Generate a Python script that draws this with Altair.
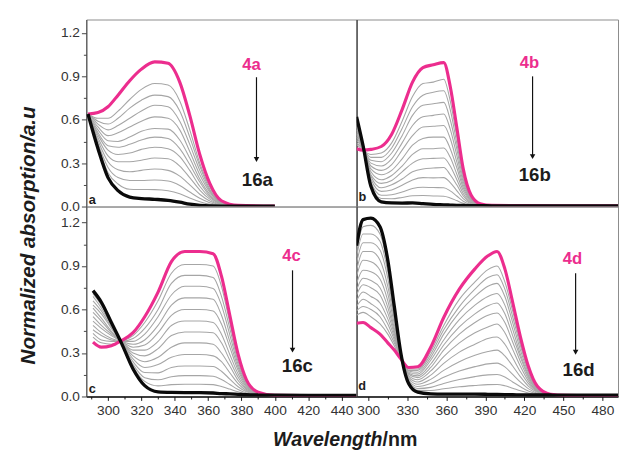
import altair as alt
import pandas as pd

FONT = "Liberation Sans"
PINK = "#ec2d8e"
GRAY = "#a6a6a6"
INK = "#1c1c1c"

# ---------------- panel a ----------------
WL_A = [288, 294, 300, 306, 313, 320, 328, 336, 343, 349, 355, 361, 368, 378, 400]
PINK_A = [0.64, 0.65, 0.69, 0.77, 0.87, 0.95, 1.00, 0.99, 0.86, 0.63, 0.36, 0.16, 0.04, 0.008, 0.004]
BLACK_A = [0.64, 0.40, 0.20, 0.11, 0.065, 0.055, 0.05, 0.043, 0.03, 0.016, 0.008, 0.004, 0.003, 0.003, 0.003]
GRAYS_A = [
    [0.64, 0.61, 0.61, 0.66, 0.74, 0.81, 0.85, 0.84, 0.73, 0.53, 0.30, 0.135, 0.034, 0.007, 0.004],
    [0.64, 0.59, 0.57, 0.61, 0.68, 0.735, 0.77, 0.76, 0.66, 0.48, 0.28, 0.12, 0.031, 0.007, 0.004],
    [0.64, 0.57, 0.53, 0.56, 0.61, 0.66, 0.70, 0.69, 0.59, 0.43, 0.25, 0.11, 0.028, 0.006, 0.004],
    [0.64, 0.55, 0.49, 0.51, 0.55, 0.59, 0.62, 0.61, 0.53, 0.38, 0.22, 0.10, 0.025, 0.006, 0.004],
    [0.64, 0.53, 0.455, 0.45, 0.48, 0.52, 0.54, 0.535, 0.46, 0.335, 0.19, 0.085, 0.022, 0.005, 0.004],
    [0.64, 0.51, 0.42, 0.41, 0.43, 0.46, 0.48, 0.47, 0.40, 0.29, 0.17, 0.074, 0.02, 0.005, 0.004],
    [0.64, 0.495, 0.39, 0.36, 0.37, 0.395, 0.41, 0.40, 0.345, 0.25, 0.14, 0.063, 0.017, 0.005, 0.004],
    [0.64, 0.475, 0.35, 0.31, 0.31, 0.32, 0.335, 0.33, 0.28, 0.20, 0.114, 0.051, 0.014, 0.004, 0.003],
    [0.64, 0.455, 0.31, 0.255, 0.24, 0.25, 0.26, 0.25, 0.21, 0.15, 0.085, 0.038, 0.011, 0.004, 0.003],
    [0.64, 0.435, 0.27, 0.20, 0.18, 0.18, 0.183, 0.176, 0.146, 0.10, 0.057, 0.026, 0.008, 0.004, 0.003],
    [0.64, 0.42, 0.234, 0.156, 0.12, 0.118, 0.117, 0.109, 0.088, 0.059, 0.033, 0.015, 0.006, 0.003, 0.003],
]

# ---------------- panel b ----------------
WL_B = [291, 296, 302, 310, 318, 326, 334, 342, 350, 358, 363, 368, 373, 379, 386, 395]
TAIL_B = [420, 460, 492]
PINK_B = [0.40, 0.39, 0.395, 0.415, 0.50, 0.67, 0.86, 0.96, 0.98, 0.995, 0.83, 0.55, 0.26, 0.08, 0.02, 0.008,
          0.006, 0.005, 0.005]
BLACK_B = [0.62, 0.42, 0.14, 0.032, 0.025, 0.024, 0.025, 0.02, 0.015, 0.012, 0.01, 0.008, 0.007, 0.006, 0.006, 0.005,
           0.005, 0.005, 0.004]
GRAYS_B = [
    [0.43, 0.39, 0.36, 0.37, 0.44, 0.59, 0.76, 0.85, 0.86, 0.88, 0.73, 0.485, 0.23, 0.071, 0.018, 0.008],
    [0.44, 0.40, 0.34, 0.34, 0.405, 0.54, 0.69, 0.77, 0.79, 0.80, 0.67, 0.44, 0.21, 0.065, 0.017, 0.007],
    [0.46, 0.40, 0.32, 0.31, 0.37, 0.49, 0.63, 0.70, 0.71, 0.72, 0.60, 0.40, 0.19, 0.059, 0.016, 0.007],
    [0.48, 0.40, 0.30, 0.28, 0.33, 0.44, 0.56, 0.62, 0.63, 0.64, 0.535, 0.355, 0.17, 0.053, 0.015, 0.007],
    [0.50, 0.40, 0.28, 0.25, 0.29, 0.39, 0.49, 0.55, 0.555, 0.56, 0.47, 0.31, 0.15, 0.047, 0.014, 0.006],
    [0.51, 0.41, 0.26, 0.22, 0.25, 0.33, 0.425, 0.47, 0.48, 0.48, 0.40, 0.27, 0.13, 0.042, 0.013, 0.006],
    [0.53, 0.41, 0.24, 0.185, 0.215, 0.28, 0.36, 0.40, 0.40, 0.405, 0.34, 0.225, 0.11, 0.036, 0.012, 0.006],
    [0.55, 0.41, 0.22, 0.16, 0.18, 0.24, 0.30, 0.33, 0.333, 0.336, 0.28, 0.187, 0.09, 0.03, 0.011, 0.006],
    [0.56, 0.41, 0.21, 0.13, 0.15, 0.19, 0.24, 0.26, 0.266, 0.27, 0.22, 0.15, 0.073, 0.025, 0.01, 0.005],
    [0.58, 0.41, 0.19, 0.105, 0.115, 0.147, 0.184, 0.20, 0.198, 0.20, 0.166, 0.11, 0.055, 0.02, 0.009, 0.005],
    [0.59, 0.42, 0.17, 0.078, 0.082, 0.10, 0.125, 0.133, 0.131, 0.13, 0.108, 0.073, 0.037, 0.015, 0.008, 0.005],
    [0.61, 0.42, 0.155, 0.055, 0.054, 0.063, 0.075, 0.076, 0.073, 0.071, 0.059, 0.041, 0.022, 0.01, 0.007, 0.005],
]

# ---------------- panel c ----------------
WL_C = [291, 296, 302, 308, 315, 322, 330, 338, 346, 355, 363, 368, 373, 378, 383, 390, 400]
TAIL_C = [420, 449]
PINK_C = [0.375, 0.34, 0.35, 0.385, 0.44, 0.55, 0.72, 0.93, 1.0, 1.0, 0.985, 0.83, 0.56, 0.29, 0.115, 0.03, 0.008,
          0.006, 0.005]
BLACK_C = [0.73, 0.65, 0.51, 0.37, 0.19, 0.075, 0.032, 0.028, 0.027, 0.027, 0.024, 0.02, 0.018, 0.015, 0.012, 0.01,
           0.009, 0.008, 0.008]
GRAYS_C = [
    [0.41, 0.37, 0.36, 0.38, 0.42, 0.51, 0.66, 0.85, 0.91, 0.91, 0.90, 0.76, 0.51, 0.265, 0.106, 0.028, 0.009],
    [0.435, 0.39, 0.38, 0.38, 0.40, 0.47, 0.60, 0.78, 0.835, 0.835, 0.82, 0.69, 0.47, 0.24, 0.097, 0.027, 0.009],
    [0.46, 0.42, 0.39, 0.38, 0.38, 0.43, 0.55, 0.70, 0.76, 0.76, 0.745, 0.63, 0.425, 0.22, 0.089, 0.025, 0.009],
    [0.49, 0.44, 0.40, 0.38, 0.36, 0.39, 0.49, 0.63, 0.68, 0.68, 0.67, 0.56, 0.38, 0.20, 0.081, 0.023, 0.009],
    [0.52, 0.47, 0.42, 0.38, 0.34, 0.355, 0.44, 0.56, 0.60, 0.60, 0.59, 0.50, 0.34, 0.18, 0.073, 0.022, 0.009],
    [0.55, 0.49, 0.43, 0.38, 0.32, 0.32, 0.38, 0.49, 0.52, 0.52, 0.51, 0.43, 0.29, 0.155, 0.065, 0.02, 0.009],
    [0.58, 0.52, 0.44, 0.38, 0.30, 0.28, 0.33, 0.42, 0.445, 0.445, 0.44, 0.37, 0.25, 0.133, 0.056, 0.019, 0.009],
    [0.61, 0.54, 0.45, 0.375, 0.28, 0.24, 0.27, 0.34, 0.37, 0.37, 0.36, 0.30, 0.21, 0.11, 0.048, 0.017, 0.009],
    [0.63, 0.57, 0.47, 0.374, 0.26, 0.20, 0.22, 0.27, 0.29, 0.29, 0.28, 0.24, 0.164, 0.089, 0.04, 0.015, 0.009],
    [0.66, 0.59, 0.48, 0.373, 0.24, 0.165, 0.163, 0.20, 0.21, 0.21, 0.207, 0.174, 0.12, 0.067, 0.032, 0.014, 0.009],
    [0.69, 0.61, 0.49, 0.372, 0.22, 0.13, 0.115, 0.136, 0.144, 0.144, 0.139, 0.117, 0.083, 0.048, 0.024, 0.012, 0.009],
    [0.71, 0.63, 0.50, 0.371, 0.205, 0.104, 0.073, 0.082, 0.085, 0.085, 0.082, 0.069, 0.051, 0.032, 0.018, 0.011, 0.009],
]

# ---------------- panel d ----------------
WL_D = [291, 296, 302, 309, 315, 320, 325, 331, 338, 348, 358, 370, 382, 392, 399, 405, 411, 417, 423, 430, 440, 452]
TAIL_D = [470, 492]
PINK_D = [0.505, 0.51, 0.475, 0.43, 0.37, 0.32, 0.26, 0.20, 0.205, 0.34, 0.545, 0.74, 0.88, 0.97, 1.0, 0.88, 0.65,
          0.41, 0.21, 0.07, 0.015, 0.008, 0.006, 0.006]
BLACK_D = [1.04, 1.22, 1.23, 1.17, 0.94, 0.62, 0.30, 0.09, 0.03, 0.018, 0.016, 0.016, 0.016, 0.015, 0.014, 0.013,
           0.012, 0.011, 0.01, 0.01, 0.01, 0.009, 0.009, 0.009]
GRAYS_D = [
    [0.56, 0.58, 0.55, 0.50, 0.43, 0.35, 0.26, 0.19, 0.19, 0.31, 0.49, 0.67, 0.79, 0.875, 0.90, 0.79, 0.59, 0.37, 0.19, 0.064, 0.0145, 0.009],
    [0.59, 0.62, 0.60, 0.55, 0.46, 0.37, 0.27, 0.18, 0.18, 0.29, 0.46, 0.62, 0.74, 0.82, 0.84, 0.74, 0.55, 0.35, 0.18, 0.06, 0.014, 0.009],
    [0.62, 0.67, 0.64, 0.59, 0.50, 0.39, 0.27, 0.176, 0.167, 0.27, 0.43, 0.58, 0.69, 0.76, 0.78, 0.69, 0.51, 0.32, 0.166, 0.057, 0.014, 0.009],
    [0.66, 0.72, 0.69, 0.645, 0.535, 0.41, 0.27, 0.168, 0.154, 0.25, 0.39, 0.53, 0.63, 0.69, 0.71, 0.63, 0.465, 0.29, 0.15, 0.053, 0.013, 0.009],
    [0.70, 0.77, 0.75, 0.70, 0.575, 0.43, 0.27, 0.16, 0.142, 0.224, 0.355, 0.48, 0.57, 0.626, 0.645, 0.57, 0.42, 0.27, 0.138, 0.048, 0.013, 0.009],
    [0.735, 0.815, 0.80, 0.75, 0.615, 0.45, 0.28, 0.153, 0.13, 0.20, 0.32, 0.43, 0.51, 0.56, 0.576, 0.51, 0.376, 0.24, 0.124, 0.044, 0.012, 0.009],
    [0.78, 0.87, 0.86, 0.81, 0.66, 0.47, 0.28, 0.144, 0.116, 0.176, 0.275, 0.37, 0.44, 0.48, 0.50, 0.44, 0.325, 0.207, 0.108, 0.039, 0.012, 0.009],
    [0.83, 0.94, 0.93, 0.87, 0.71, 0.50, 0.284, 0.134, 0.10, 0.147, 0.228, 0.306, 0.36, 0.40, 0.41, 0.36, 0.267, 0.17, 0.09, 0.034, 0.012, 0.009],
    [0.87, 1.00, 1.00, 0.94, 0.76, 0.53, 0.29, 0.124, 0.084, 0.118, 0.18, 0.24, 0.284, 0.31, 0.32, 0.28, 0.21, 0.135, 0.072, 0.029, 0.011, 0.009],
    [0.92, 1.06, 1.06, 1.01, 0.815, 0.55, 0.29, 0.114, 0.069, 0.089, 0.132, 0.175, 0.206, 0.225, 0.23, 0.204, 0.152, 0.099, 0.054, 0.023, 0.011, 0.009],
    [0.965, 1.12, 1.12, 1.07, 0.86, 0.58, 0.294, 0.105, 0.055, 0.063, 0.09, 0.117, 0.137, 0.149, 0.152, 0.134, 0.10, 0.067, 0.038, 0.018, 0.01, 0.009],
    [1.00, 1.17, 1.18, 1.12, 0.90, 0.60, 0.297, 0.098, 0.042, 0.041, 0.053, 0.067, 0.076, 0.082, 0.083, 0.074, 0.057, 0.039, 0.024, 0.014, 0.01, 0.009],
]

# annotations (label text, and where they sit in data units)
START_LABELS = ["4a", "4b", "4c", "4d"]
END_LABELS = ["16a", "16b", "16c", "16d"]
PANEL_LETTERS = ["a", "b", "c", "d"]
START_POS = [(386, 0.975), (424, 0.99), (410, 0.966), (457, 0.95)]
END_POS = [(389.5, 0.186), (428, 0.217), (413.5, 0.21), (461.7, 0.18)]
ARROW_X = [389, 426.3, 410.6, 459.4]
ARROW_TOP = [0.894, 0.90, 0.87, 0.85]
ARROW_BOTTOM = [0.325, 0.345, 0.32, 0.305]
LETTER_POS = [(288.5, 0.045), (292.5, 0.068), (288.5, 0.054), (292.3, 0.074)]

Y_MAJOR = [0.0, 0.3, 0.6, 0.9, 1.2]
Y_MINOR = [0.15, 0.45, 0.75, 1.05]
X_MAJOR_L = [300, 320, 340, 360, 380, 400, 420, 440]
X_MINOR_L = [290, 310, 330, 350, 370, 390, 410, 430]
X_MAJOR_R = [300, 330, 360, 390, 420, 450, 480]
X_MINOR_R = [315, 345, 375, 405, 435, 465]


def curves_frame(wl, curves):
    rows = []
    for i, c in enumerate(curves):
        for x, y in zip(wl, c):
            rows.append({"wl": x, "v": y, "s": i})
    return pd.DataFrame(rows)


def panel(i, wl, tail, pink, black, grays, xdom, ydom, w, h, side, bottom):
    xs = alt.Scale(domain=xdom, nice=False, zero=False)
    ys = alt.Scale(domain=ydom, nice=False, zero=False)

    if bottom:
        xmaj_vals, xmin_vals = (X_MAJOR_L, X_MINOR_L) if side == "L" else (X_MAJOR_R, X_MINOR_R)
        if side == "L":
            tkw = dict(title="Wavelength", titleX=302, titleAlign="right", titleFontStyle="italic")
        else:
            tkw = dict(title="/nm", titleX=26, titleAlign="left")
        x_major = alt.Axis(orient="bottom", values=xmaj_vals, tickSize=4, labelPadding=3, labelFontSize=14,
                           labelColor="#333", tickColor="#111", domainColor="#111", domainWidth=1.6, grid=False,
                           titleY=50, titleBaseline="alphabetic", titleFontSize=20, titleFontWeight="bold",
                           titleColor=INK, labelFlush=False, labelOverlap=False, **tkw)
        x_minor = alt.Axis(orient="bottom", values=xmin_vals, tickSize=2.5, labels=False, domain=False,
                           tickColor="#111", grid=False, title=None)
    else:
        x_major = None
        x_minor = None

    if side == "L":
        ykw = dict(title=None)
        if bottom:
            ykw = dict(title="Normalized absorption/a.u", titleX=-59, titleY=29, titleAngle=270,
                       titleAlign="center", titleBaseline="middle", titleFontSize=21, titleFontWeight="bold",
                       titleFontStyle="italic", titleColor=INK)
        y_major = alt.Axis(orient="left", values=Y_MAJOR, format=".1f", tickSize=5, labelPadding=2,
                           labelFontSize=14, labelColor="#333", tickColor="#444", domainColor="#444",
                           grid=False, labelFlush=False, labelOverlap=False, **ykw)
        y_minor = alt.Axis(orient="left", values=Y_MINOR, tickSize=3, labels=False, domain=False,
                           tickColor="#444", grid=False, title=None)
    else:
        y_major = alt.Axis(orient="left", values=[], ticks=False, labels=False, domainColor="#333",
                           grid=False, title=None)
        y_minor = None

    gdf = curves_frame(wl, grays)
    pdf = pd.DataFrame({"wl": wl + tail, "v": pink})
    bdf = pd.DataFrame({"wl": wl + tail, "v": black})

    gray_layer = alt.Chart(gdf).mark_line(interpolate="monotone", clip=True, strokeWidth=1.1, color=GRAY).encode(
        x=alt.X("wl:Q", scale=xs, axis=x_major),
        y=alt.Y("v:Q", scale=ys, axis=y_major),
        detail="s:N",
    )
    pink_layer = alt.Chart(pdf).mark_line(interpolate="monotone", clip=True, strokeWidth=3.2, color=PINK).encode(
        x=alt.X("wl:Q", scale=xs, axis=None),
        y=alt.Y("v:Q", scale=ys, axis=None),
    )
    black_layer = alt.Chart(bdf).mark_line(interpolate="monotone", clip=True, strokeWidth=3.4, color="#0a0a0a").encode(
        x=alt.X("wl:Q", scale=xs, axis=x_minor),
        y=alt.Y("v:Q", scale=ys, axis=y_minor),
    )

    adf = pd.DataFrame({"x": [ARROW_X[i]], "top": [ARROW_TOP[i]], "bot": [ARROW_BOTTOM[i]]})
    arrow = alt.Chart(adf).mark_rule(color="#111", strokeWidth=1.2).encode(
        x=alt.X("x:Q", scale=xs, axis=None),
        y=alt.Y("top:Q", scale=ys, axis=None),
        y2="bot:Q",
    )
    head = alt.Chart(adf).mark_point(shape="triangle-down", filled=True, size=32, color="#111", opacity=1).encode(
        x=alt.X("x:Q", scale=xs, axis=None),
        y=alt.Y("bot:Q", scale=ys, axis=None),
    )

    sdf = pd.DataFrame({"x": [START_POS[i][0]], "y": [START_POS[i][1]], "t": [START_LABELS[i]]})
    edf = pd.DataFrame({"x": [END_POS[i][0]], "y": [END_POS[i][1]], "t": [END_LABELS[i]]})
    ldf = pd.DataFrame({"x": [LETTER_POS[i][0]], "y": [LETTER_POS[i][1]], "t": [PANEL_LETTERS[i]]})

    start_txt = alt.Chart(sdf).mark_text(font=FONT, fontWeight="bold", fontSize=17, color=PINK,
                                         baseline="middle", align="center").encode(
        x=alt.X("x:Q", scale=xs, axis=None), y=alt.Y("y:Q", scale=ys, axis=None), text="t:N")
    end_txt = alt.Chart(edf).mark_text(font=FONT, fontWeight="bold", fontSize=19, color=INK,
                                       baseline="middle", align="center").encode(
        x=alt.X("x:Q", scale=xs, axis=None), y=alt.Y("y:Q", scale=ys, axis=None), text="t:N")
    letter_txt = alt.Chart(ldf).mark_text(font=FONT, fontWeight="bold", fontSize=13, color=INK,
                                          baseline="middle", align="left").encode(
        x=alt.X("x:Q", scale=xs, axis=None), y=alt.Y("y:Q", scale=ys, axis=None), text="t:N")

    return alt.layer(gray_layer, pink_layer, black_layer, arrow, head, start_txt, end_txt, letter_txt).resolve_axis(
        x="independent", y="independent").properties(width=w, height=h)


XD_L = [287, 449]
XD_R = [291, 492]
pa = panel(0, WL_A, [], PINK_A, BLACK_A, GRAYS_A, XD_L, [0, 1.293], 276, 191, "L", False)
pb = panel(1, WL_B, TAIL_B, PINK_B, BLACK_B, GRAYS_B, XD_R, [0, 1.293], 267, 191, "R", False)
pc = panel(2, WL_C, TAIL_C, PINK_C, BLACK_C, GRAYS_C, XD_L, [0, 1.31], 276, 194, "L", True)
pd_ = panel(3, WL_D, TAIL_D, PINK_D, BLACK_D, GRAYS_D, XD_R, [0, 1.31], 267, 194, "R", True)

chart = alt.concat(pa, pb, pc, pd_, columns=2, spacing=0, bounds="flush").resolve_scale(
    x="independent", y="independent"
).properties(
    padding={"left": 9, "top": 6, "right": 0, "bottom": 0},
    background="white",
).configure_view(
    stroke="#8a8a8a", strokeWidth=1
).configure_axis(
    labelFont=FONT, titleFont=FONT
)

chart.save("out.html", embed_options={"renderer": "svg", "actions": False})
